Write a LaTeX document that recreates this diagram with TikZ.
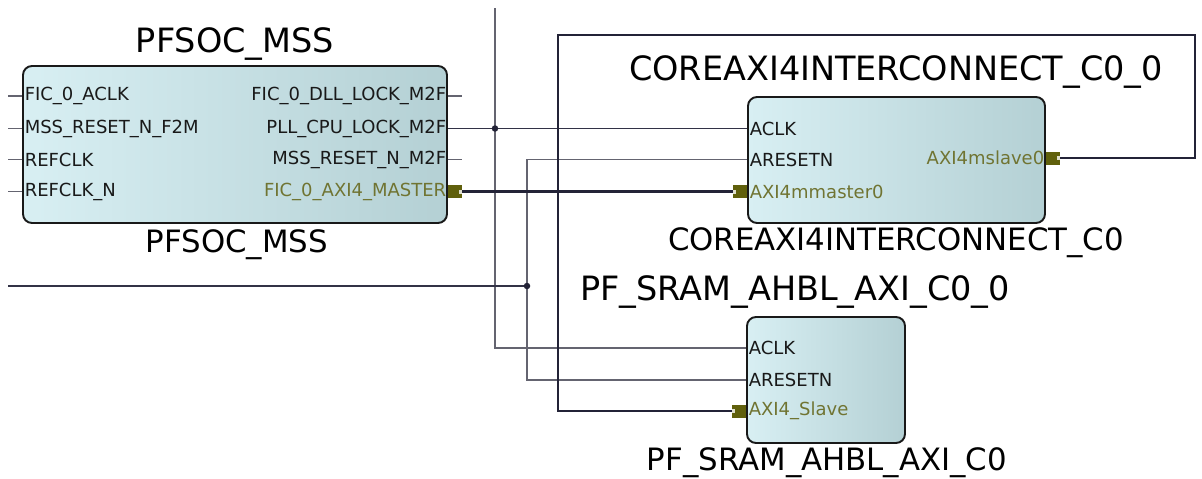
\documentclass[tikz,border=0pt]{standalone}
\usepackage{fontspec}
\setmainfont{DejaVu Sans}

\definecolor{wirecol}{RGB}{100,100,112}
\definecolor{netcol}{RGB}{50,50,70}
\definecolor{buscol}{RGB}{35,35,55}
\definecolor{portcol}{RGB}{96,96,12}
\definecolor{olivetxt}{RGB}{112,116,50}
\definecolor{boxleft}{RGB}{216,239,243}
\definecolor{boxright}{RGB}{180,208,212}

\tikzset{
  block/.style={draw=black!90, line width=1.9pt, rounded corners=9pt,
    left color=boxleft, right color=boxright, inner sep=0pt},
  pinlbl/.style={font=\fontsize{18}{18}\selectfont, text=black!90, inner ysep=1.5pt, inner xsep=2.5pt},
  buslbl/.style={pinlbl, text=olivetxt},
  title/.style={font=\fontsize{33.5}{33.5}\selectfont, inner sep=0pt},
  subtitle/.style={font=\fontsize{30.8}{30.8}\selectfont, inner sep=0pt},
  wire/.style={draw=wirecol, line width=1.4pt},
  net/.style={draw=netcol, line width=1.5pt},
  bus/.style={draw=buscol, line width=2.4pt},
  busport/.style 2 args={fill=portcol, minimum width=14pt, minimum height=13pt, inner sep=0pt,
    path picture={\fill[white!80!portcol]
      (path picture bounding box.#1) ++(0,-2) rectangle ++(#2,4);}},
  junction/.style={circle, fill=buscol, inner sep=0pt, minimum size=6.5pt},
}

\begin{document}
\begin{tikzpicture}[x=1pt, y=-1pt]
\useasboundingbox (0,0) rectangle (1202,479);

% blocks
\node[block, minimum width=424pt, minimum height=157pt] (mss) at (235,144.5) {};
\node[block, minimum width=297pt, minimum height=126pt] (axi) at (896.5,160) {};
\node[block, minimum width=158pt, minimum height=126pt] (sram) at (826,380) {};

\node[title] (mss-t) at (235,44) {PFSOC\_MSS};
\node[subtitle] (mss-b) at (237,245) {PFSOC\_MSS};
\node[title] (axi-t) at (896,72) {COREAXI4INTERCONNECT\_C0\_0};
\node[subtitle] (axi-b) at (896,243) {COREAXI4INTERCONNECT\_C0};
\node[title] (sram-t) at (795,292) {PF\_SRAM\_AHBL\_AXI\_C0\_0};
\node[subtitle] (sram-b) at (827,463) {PF\_SRAM\_AHBL\_AXI\_C0};

% PFSOC_MSS pins
\foreach \y/\n/\t in {96/1/{FIC\_0\_ACLK}, 128.5/2/{MSS\_RESET\_N\_F2M},
    159.5/3/{REFCLK}, 191.5/4/{REFCLK\_N}} {
  \node[pinlbl, anchor=west] (mss-l\n) at (mss.west |- 0,\y) {\t};
  \coordinate (mss-s\n) at (8,\y);
  \draw[wire] (mss-s\n) -- (mss-l\n.west);
}
\foreach \y/\n/\t in {96/1/{FIC\_0\_DLL\_LOCK\_M2F}, 128.5/2/{PLL\_CPU\_LOCK\_M2F},
    159.5/3/{MSS\_RESET\_N\_M2F}} {
  \node[pinlbl, anchor=east, inner xsep=1.5pt] (mss-r\n) at (mss.east |- 0,\y) {\t};
  \coordinate (mss-e\n) at (462,\y);
}
\draw[wire] (mss-r1.east) -- (mss-e1);
\draw[wire] (mss-r3.east) -- (mss-e3);
\node[buslbl, anchor=east, inner xsep=1.5pt] (mss-r4) at (mss.east |- 0,191.5) {FIC\_0\_AXI4\_MASTER};
\node[busport={east}{-3}, anchor=west] (mss-port) at (mss.east |- 0,191.5) {};

% COREAXI4INTERCONNECT pins
\node[pinlbl, anchor=west] (axi-l1) at (axi.west |- 0,128.5) {ACLK};
\node[pinlbl, anchor=west] (axi-l2) at (axi.west |- 0,159.5) {ARESETN};
\node[buslbl, anchor=west] (axi-l3) at (axi.west |- 0,191.5) {AXI4mmaster0};
\node[busport={west}{3}, anchor=east] (axi-p1) at (axi.west |- 0,191.5) {};
\node[buslbl, anchor=east, inner xsep=1.5pt] (axi-r1) at (axi.east |- 0,158) {AXI4mslave0};
\node[busport={east}{-3}, anchor=west] (axi-p2) at (axi.east |- 0,158) {};

% PF_SRAM pins
\node[pinlbl, anchor=west] (sram-l1) at (sram.west |- 0,348) {ACLK};
\node[pinlbl, anchor=west] (sram-l2) at (sram.west |- 0,380) {ARESETN};
\node[buslbl, anchor=west] (sram-l3) at (sram.west |- 0,411) {AXI4\_Slave};
\node[busport={west}{3}, anchor=east] (sram-port) at (sram.west |- 0,411) {};

% nets
\coordinate (clk-top) at (495,8);
\coordinate (rst-in) at (8,286);
\coordinate (rst-j) at (527,286);
\coordinate (loop-r) at (1195,35);
\coordinate (loop-l) at (558,35);

\draw[wire] (clk-top) |- (sram-l1.west);
\draw[wire] (axi-l2.west) -| (rst-j) |- (sram-l2.west);
\draw[net] (mss-r2.east) -- (axi-l1.west);
\draw[net] (rst-in) -- (rst-j);
\draw[bus] (mss-port.east) -- (axi-p1.west);
\draw[bus] (axi-p2.east) -| (loop-r) -- (loop-l) |- (sram-port.west);

\node[junction] (j-clk) at (clk-top |- mss-r2) {};
\node[junction] (j-rst) at (rst-j) {};
\end{tikzpicture}
\end{document}
